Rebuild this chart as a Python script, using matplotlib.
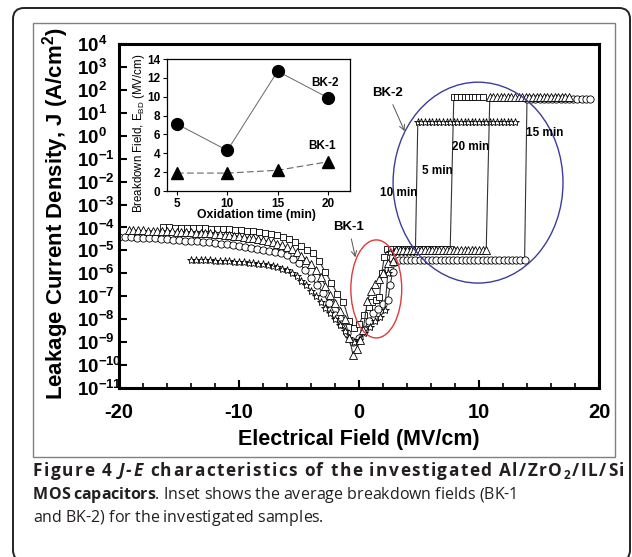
import numpy as np
import matplotlib
matplotlib.use("Agg")
import matplotlib.pyplot as plt
from matplotlib.patches import Ellipse, FancyBboxPatch, Rectangle
from matplotlib.transforms import IdentityTransform
from matplotlib.ticker import MultipleLocator, NullLocator
from matplotlib.font_manager import FontProperties

plt.rcParams['font.family'] = 'Liberation Sans'
plt.rcParams['mathtext.fontset'] = 'custom'
plt.rcParams['mathtext.rm'] = 'Liberation Sans:bold'
plt.rcParams['mathtext.bf'] = 'Liberation Sans:bold'
plt.rcParams['mathtext.it'] = 'Liberation Sans:bold:italic'

# ---- J-E data, field in MV/cm, log10(J / A cm^-2) ----
# 5 min (open squares)
e5 = [-16.3, -15.8, -15.3, -14.8, -14.3, -13.8, -13.3, -12.8, -12.3, -11.8, -11.3, -10.8,
      -10.3, -9.8, -9.3, -8.8, -8.3, -7.8, -7.3, -6.8, -6.3, -5.8, -5.3, -4.8, -4.3, -3.8,
      -3.3, -2.8, -2.3, -1.8, -1.3, -0.8,
      -0.4, 0.0, 0.4, 0.8, 1.1, 1.4, 1.7, 1.9, 2.1,
      2.35, 2.7, 3.05, 3.4, 3.75, 4.1, 4.45, 4.8, 5.15, 5.5, 5.85, 6.2, 6.55, 6.9, 7.25, 7.6,
      7.9, 8.2, 8.5, 8.8, 9.1, 9.4, 9.7, 10.0, 10.3]
lj5 = [-4.00, -4.00, -4.01, -4.01, -4.02, -4.02, -4.03, -4.04, -4.05, -4.06, -4.07, -4.08,
       -4.10, -4.12, -4.14, -4.16, -4.19, -4.22, -4.27, -4.33, -4.41, -4.51, -4.64, -4.82, -4.98, -5.12,
       -5.48, -5.95, -6.40, -6.90, -7.25, -8.10,
       -8.40, -8.20, -7.80, -7.45, -7.25, -7.15, -7.05, -6.00, -5.30,
       -4.95, -4.95, -4.95, -4.95, -4.95, -4.95, -4.95, -4.95, -4.95, -4.95, -4.95, -4.95, -4.95, -4.95, -4.95, -4.95,
       1.70, 1.70, 1.70, 1.70, 1.70, 1.70, 1.70, 1.70, 1.70]

# 10 min (stars)
e10 = [-14.0, -13.6, -13.2, -12.8, -12.4, -12.0, -11.6, -11.2, -10.8, -10.4, -10.0, -9.6,
       -9.2, -8.8, -8.4, -8.0, -7.6, -7.2, -6.8, -6.4, -6.0, -5.6, -5.2, -4.8, -4.4, -4.0,
       -3.6, -3.2, -2.8, -2.4, -2.0, -1.6, -1.2, -0.8,
       -0.4, 0.0, 0.45, 0.9, 1.3, 1.75, 2.15, 2.4,
       2.6, 2.9, 3.2, 3.5, 3.8, 4.1, 4.4, 4.7,
       4.9, 5.2, 5.5, 5.8, 6.1, 6.4, 6.7, 7.0, 7.3, 7.6, 7.9, 8.2, 8.5, 8.8, 9.1, 9.4,
       9.7, 10.0, 10.3, 10.6, 10.9, 11.2, 11.5, 11.8, 12.1, 12.4, 12.7, 13.0]
lj10 = [-5.42, -5.42, -5.43, -5.43, -5.44, -5.45, -5.46, -5.47, -5.48, -5.49, -5.50, -5.52,
        -5.54, -5.56, -5.58, -5.61, -5.64, -5.68, -5.73, -5.79, -5.87, -5.98, -6.12, -6.32, -6.52, -6.75,
        -6.98, -7.25, -7.50, -7.75, -8.00, -8.25, -8.50, -8.80,
        -9.00, -8.90, -8.60, -8.34, -8.10, -7.90, -7.60, -6.00,
        -5.05, -5.05, -5.05, -5.05, -5.05, -5.05, -5.05, -5.05,
        0.60, 0.60, 0.60, 0.60, 0.60, 0.60, 0.60, 0.60, 0.60, 0.60, 0.60, 0.60, 0.60, 0.60, 0.60, 0.60,
        0.60, 0.60, 0.60, 0.60, 0.60, 0.60, 0.60, 0.60, 0.60, 0.60, 0.60, 0.60]

# 15 min (open circles)
e15 = [-20.0, -19.5, -19.0, -18.5, -18.0, -17.5, -17.0, -16.5, -16.0, -15.5, -15.0, -14.5,
       -14.0, -13.5, -13.0, -12.5, -12.0, -11.5, -11.0, -10.5, -10.0, -9.5, -9.0, -8.5,
       -8.0, -7.5, -7.0, -6.5, -6.0, -5.5, -5.0, -4.5, -4.0, -3.5, -3.0, -2.5, -2.0, -1.5,
       -1.0, -0.5,
       0.0, 0.4, 0.8, 1.2, 1.6, 2.0, 2.4, 2.6, 2.8, 3.0,
       3.3, 3.65, 4.0, 4.35, 4.7, 5.05, 5.4, 5.75, 6.1, 6.45, 6.8, 7.15, 7.5, 7.85, 8.2, 8.55,
       8.9, 9.25, 9.6, 9.95, 10.3, 10.65, 11.0, 11.35, 11.7, 12.05, 12.4, 12.75, 13.1, 13.45, 13.8,
       14.0, 14.35, 14.7, 15.05, 15.4, 15.75, 16.1, 16.45, 16.8, 17.15, 17.5, 17.85, 18.2,
       18.55, 18.9, 19.25]
lj15 = [-4.42, -4.42, -4.43, -4.44, -4.45, -4.46, -4.48, -4.50, -4.52, -4.53, -4.55, -4.57,
        -4.59, -4.61, -4.63, -4.65, -4.68, -4.71, -4.74, -4.77, -4.80, -4.84, -4.88, -4.93,
        -4.98, -5.03, -5.08, -5.13, -5.22, -5.36, -5.55, -5.85, -6.20, -6.50, -6.86, -7.30, -7.80, -8.20,
        -8.60, -9.00,
        -8.80, -8.45, -8.10, -7.75, -7.55, -7.35, -7.16, -6.50, -5.95, -5.50,
        -5.42, -5.42, -5.42, -5.42, -5.42, -5.42, -5.42, -5.42, -5.42, -5.42, -5.42, -5.42, -5.42, -5.42, -5.42, -5.42,
        -5.42, -5.42, -5.42, -5.42, -5.42, -5.42, -5.42, -5.42, -5.42, -5.42, -5.42, -5.42, -5.42, -5.42, -5.42,
        1.60, 1.60, 1.60, 1.60, 1.60, 1.60, 1.60, 1.60, 1.60, 1.60, 1.60, 1.60, 1.60,
        1.60, 1.60, 1.60]

# 20 min (open triangles)
e20 = [-19.2, -18.8, -18.4, -18.0, -17.6, -17.2, -16.8, -16.4, -16.0, -15.6, -15.2, -14.8,
       -14.4, -14.0, -13.6, -13.2, -12.8, -12.4, -12.0, -11.6, -11.2, -10.8, -10.4, -10.0,
       -9.6, -9.2, -8.8, -8.4, -8.0, -7.6, -7.2, -6.8, -6.4, -6.0, -5.6, -5.2, -4.8, -4.4,
       -4.0, -3.6, -3.2, -2.8, -2.4, -2.0, -1.6, -1.2, -0.8, -0.5,
       -0.2, 0.1, 0.35, 0.7, 1.0, 1.35, 1.7, 2.0, 2.4, 2.8,
       3.1, 3.4, 3.7, 4.0, 4.3, 4.6, 4.9, 5.2, 5.5, 5.8, 6.1, 6.4, 6.7, 7.0, 7.3, 7.6,
       7.9, 8.2, 8.5, 8.8, 9.1, 9.4, 9.7, 10.0, 10.3, 10.6,
       10.9, 11.2, 11.5, 11.8, 12.1, 12.4, 12.7, 13.0, 13.3, 13.6, 13.9, 14.2, 14.5, 14.8,
       15.1, 15.4, 15.7, 16.0, 16.3, 16.6, 16.9, 17.2, 17.5]
lj20 = [-4.12, -4.12, -4.13, -4.13, -4.14, -4.14, -4.15, -4.15, -4.16, -4.17, -4.18, -4.19,
        -4.20, -4.21, -4.22, -4.23, -4.24, -4.26, -4.28, -4.30, -4.32, -4.34, -4.36, -4.38,
        -4.41, -4.44, -4.47, -4.51, -4.55, -4.60, -4.65, -4.71, -4.78, -4.86, -4.96, -5.08, -5.23, -5.40,
        -5.60, -5.85, -6.15, -6.55, -6.95, -7.30, -7.65, -8.00, -8.80, -9.56,
        -9.30, -8.90, -8.45, -7.20, -6.75, -6.45, -6.25, -6.00, -5.55, -5.45,
        -5.00, -5.00, -5.00, -5.00, -5.00, -5.00, -5.00, -5.00, -5.00, -5.00, -5.00, -5.00, -5.00, -5.00, -5.00, -5.00,
        -5.00, -5.00, -5.00, -5.00, -5.00, -5.00, -5.00, -5.00, -5.00, -5.00,
        1.68, 1.68, 1.68, 1.68, 1.68, 1.68, 1.68, 1.68, 1.68, 1.68, 1.68, 1.68, 1.68, 1.68,
        1.68, 1.68, 1.68, 1.68, 1.68, 1.68, 1.68, 1.68, 1.68]

# ---- inset: breakdown fields ----
ox_time = [5, 10, 15, 20]
bk2 = [7.1, 4.3, 12.7, 9.9]
bk1 = [1.9, 1.9, 2.2, 3.1]

W, H = 632, 557
fig = plt.figure(figsize=(W / 100, H / 100), dpi=100)

# frame decorations
fig.add_artist(FancyBboxPatch((13, -4), 617, 553, boxstyle="round,pad=0,rounding_size=11",
                              transform=IdentityTransform(), fill=False, ec='#222222', lw=1.4))
fig.add_artist(Rectangle((33, H - 457), 582, 434, transform=IdentityTransform(),
                         fill=False, ec='#808080', lw=1.0))

ax = fig.add_axes([119 / W, (H - 388) / H, 480 / W, 344 / H])
ax.set_yscale('log')

series = [
    (e15, lj15, 'o', 5.2, 1),
    (e5, lj5, 's', 4.6, 2),
    (e10, lj10, '*', 6.0, 3),
    (e20, lj20, '^', 5.6, 4),
]
for e, lj, mk, ms, z in series:
    ax.plot(e, 10.0 ** np.array(lj), '-', color='#333333', lw=0.8, marker=mk, ms=ms,
            mfc='white', mec='black', mew=0.6, zorder=z)

ax.set_xlim(-20, 20)
ax.set_ylim(1e-11, 1e4)
ax.set_xticks([-20, -10, 0, 10, 20])
ax.set_xticklabels(['-20', '-10', '0', '10', '20'], fontsize=14.5, fontweight='bold')
ax.xaxis.set_minor_locator(MultipleLocator(2))
decades = list(range(-11, 5))
ax.set_yticks([10.0 ** k for k in decades])
ax.set_yticklabels([r'$10^{%d}$' % k for k in decades], fontsize=13.5)
ax.yaxis.set_minor_locator(NullLocator())
for lab in ax.get_yticklabels():
    lab.set_horizontalalignment('left')
ax.tick_params(axis='y', which='major', direction='in', length=6, width=1.5, pad=30)
ax.tick_params(axis='x', which='major', direction='in', length=6, width=1.5, pad=11)
ax.tick_params(axis='x', which='minor', direction='in', length=3.5, width=1.2)
for sp in ax.spines.values():
    sp.set_linewidth(2.2)

fig.text(56 / W, (H - 214) / H, 'Leakage Current Density, J (A/cm$^2$)', rotation=90,
         ha='center', va='center', fontsize=16, fontweight='bold')
fig.text(359 / W, (H - 440) / H, 'Electrical Field (MV/cm)', ha='center', va='center',
         fontsize=15.5, fontweight='bold')

# annotations on main plot
ax.add_patch(Ellipse((0.536, 0.288), 0.106, 0.285, transform=ax.transAxes, fill=False,
                     ec='#e03a3a', lw=1.0, zorder=6))
ax.add_patch(Ellipse((0.748, 0.597), 0.354, 0.584, transform=ax.transAxes, fill=False,
                     ec='#3c3c9c', lw=1.0, zorder=6))
arrow = dict(arrowstyle='->', color='#555555', lw=0.7, shrinkA=2, shrinkB=0)
ax.annotate('BK-2', xy=(3.8, 10 ** 0.2), xytext=(2.4, 10 ** 1.85), ha='center', va='center',
            fontsize=9.5, fontweight='bold', arrowprops=arrow, zorder=7)
ax.annotate('BK-1', xy=(-0.3, 10 ** -5.3), xytext=(-0.85, 10 ** -4.0), ha='center', va='center',
            fontsize=9.5, fontweight='bold', arrowprops=arrow, zorder=7)
for txt, ex, ly in [('10 min', 3.33, -2.5), ('5 min', 6.5, -1.54),
                    ('20 min', 9.33, -0.49), ('15 min', 15.5, 0.12)]:
    ax.text(ex, 10 ** ly, txt, ha='center', va='center', fontsize=8.5, fontweight='bold', zorder=7)

# inset
ins = fig.add_axes([167 / W, (H - 191) / H, 183 / W, 132 / H])
ins.plot(ox_time, bk2, '-', color='#666666', lw=0.7, marker='o', ms=8.5, mfc='black', mec='black')
ins.plot(ox_time, bk1, '--', color='#666666', lw=0.8, dashes=(6, 3), marker='^', ms=9,
         mfc='black', mec='black')
ins.set_xlim(4, 22.2)
ins.set_ylim(0, 14)
ins.set_xticks(ox_time)
ins.set_yticks(range(0, 15, 2))
ins.tick_params(direction='out', length=3, width=0.8, labelsize=8.5, pad=2)
for lab in ins.get_xticklabels() + ins.get_yticklabels():
    lab.set_fontweight('bold')
for sp in ins.spines.values():
    sp.set_linewidth(0.9)
ins.text(19.7, 11.45, 'BK-2', ha='center', va='center', fontsize=8.5, fontweight='bold')
ins.text(19.4, 4.77, 'BK-1', ha='center', va='center', fontsize=8.5, fontweight='bold')
fig.text(139 / W, (H - 133) / H, r'Breakdown Field, E$_{\mathregular{BD}}$ (MV/cm)', rotation=90,
         ha='center', va='center', fontsize=8.3)
fig.text(256 / W, (H - 215) / H, 'Oxidation time (min)', ha='center', va='center',
         fontsize=8.8, fontweight='bold')

# caption, set glyph by glyph so the first line can be spread to full width
renderer = fig.canvas.get_renderer()


def glyph_advance(ch, weight, style, size):
    prop = FontProperties(family='Open Sans', weight=weight, style=style, size=size)
    w_with = renderer.get_text_width_height_descent('x' + ch + 'x', prop, ismath=False)[0]
    w_without = renderer.get_text_width_height_descent('xx', prop, ismath=False)[0]
    return w_with - w_without


def caption_line(y_base, parts, right=None, size=11.5):
    x0 = 33
    glyphs = []
    for s, weight, style, sz, dy in parts:
        sz = sz or size
        for ch in s:
            glyphs.append((ch, weight, style, sz, dy, glyph_advance(ch, weight, style, sz)))
    natural = sum(g[-1] for g in glyphs)
    track = 0 if right is None else max(0, (right - x0 - natural) / (len(glyphs) - 1))
    x = x0
    for ch, weight, style, sz, dy, adv in glyphs:
        if ch != ' ':
            fig.text(x, H - y_base - dy, ch, transform=IdentityTransform(), va='baseline',
                     family='Open Sans', weight=weight, style=style, fontsize=sz, color='#231f20')
        x += adv + track


caption_line(476, [('Figure 4 ', 'bold', 'normal', None, 0),
                   ('J-E', 'bold', 'italic', None, 0),
                   (' characteristics of the investigated Al/ZrO', 'bold', 'normal', None, 0),
                   ('2', 'bold', 'normal', 8.5, 3),
                   ('/IL/Si', 'bold', 'normal', None, 0)], right=624, size=12.4)
caption_line(499, [('MOS capacitors', 'bold', 'normal', None, 0),
                   ('. Inset shows the average breakdown fields (BK-1', 'normal', 'normal', None, 0)])
caption_line(522, [('and BK-2) for the investigated samples.', 'normal', 'normal', None, 0)])

fig.savefig('out.png', dpi=100)
